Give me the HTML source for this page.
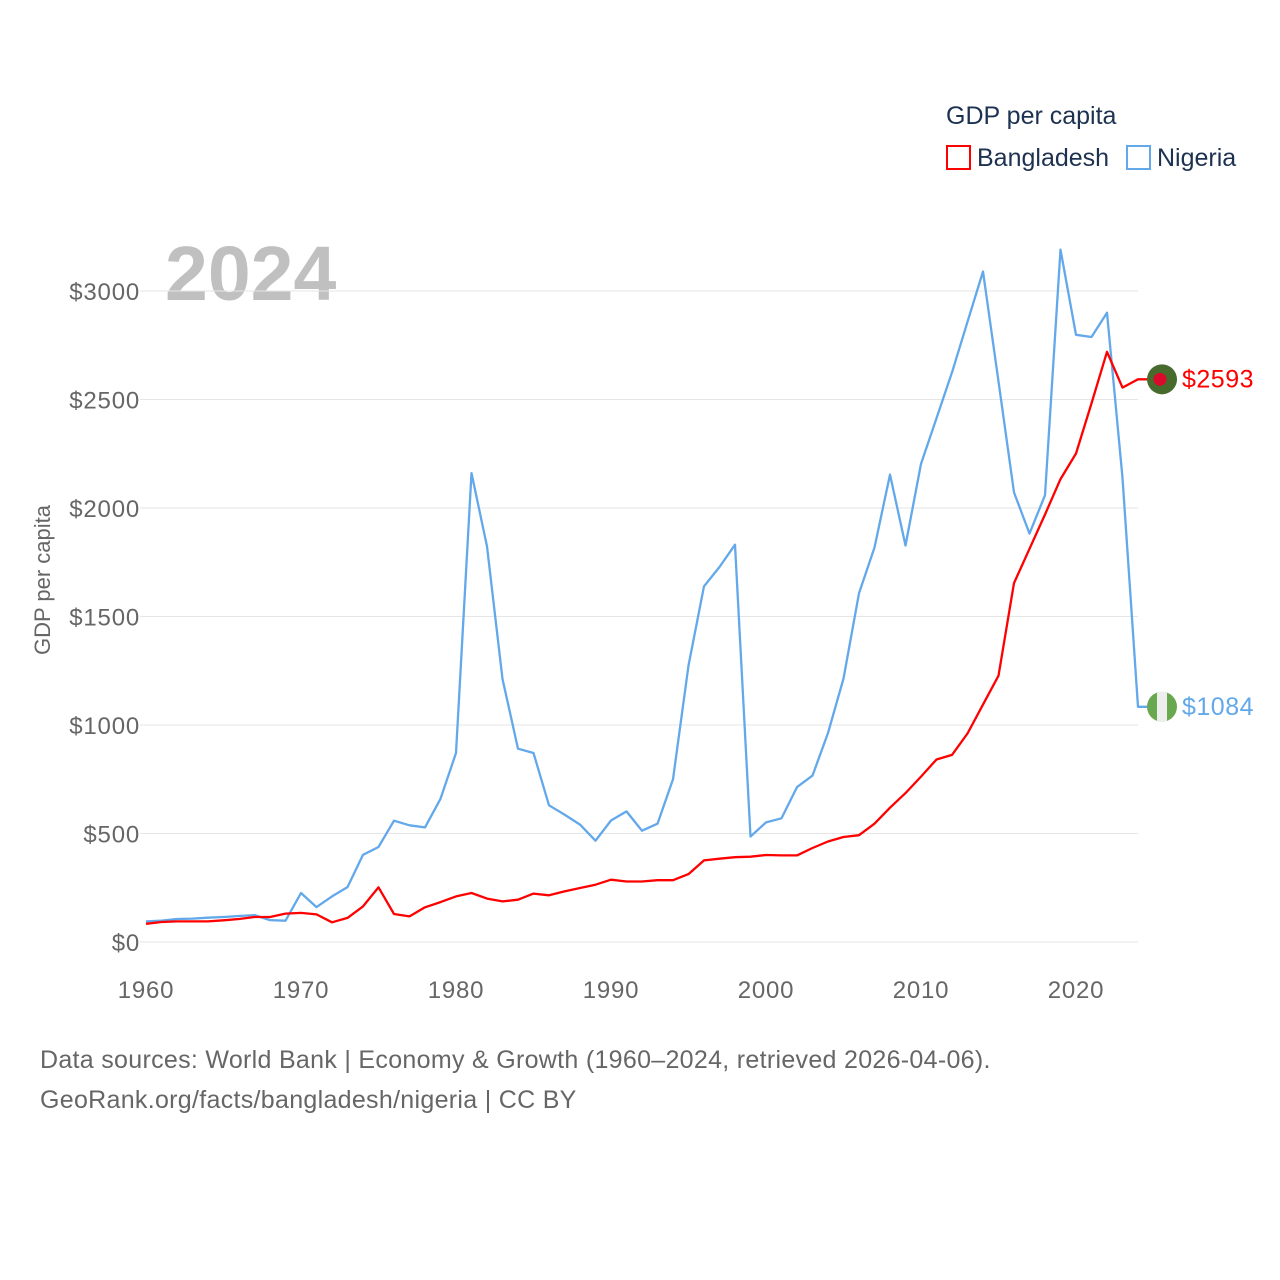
<!DOCTYPE html>
<html><head><meta charset="utf-8"><style>
html,body{margin:0;padding:0;background:#fff;width:1280px;height:1280px;overflow:hidden}
svg text{font-family:"Liberation Sans",sans-serif}
</style></head><body>
<svg id="chart" width="1280" height="1280" xmlns="http://www.w3.org/2000/svg">
<text x="946" y="124" font-size="25" fill="#1d3150">GDP per capita</text>
<g><rect x="947" y="146" width="23" height="23" fill="none" stroke="#ff0000" stroke-width="2"/><text x="977" y="166" font-size="25" fill="#1d3150">Bangladesh</text></g>
<g><rect x="1127" y="146" width="23" height="23" fill="none" stroke="#62a8ea" stroke-width="2"/><text x="1157" y="166" font-size="25" fill="#1d3150">Nigeria</text></g>
<text x="165" y="300" font-size="77" font-weight="bold" fill="#c0c0c0">2024</text>
<text transform="translate(50,580) rotate(-90)" text-anchor="middle" font-size="22" fill="#666">GDP per capita</text>
<g id="grid"></g><g id="xt"></g><g id="series"></g>
<text x="40" y="1068" font-size="25" fill="#666" letter-spacing="0.3">Data sources: World Bank | Economy &amp; Growth (1960–2024, retrieved 2026-04-06).</text>
<text x="40" y="1108" font-size="25" fill="#666" letter-spacing="0.3">GeoRank.org/facts/bangladesh/nigeria | CC BY</text>
</svg>
<script>
const years=[];for(let y=1960;y<=2024;y++)years.push(y);
const bangladesh=[84,92,95,95,95,100,106,115,115,131,134,127,91,111,164,252,129,118,160,184,210,226,200,187,195,223,215,233,249,264,287,279,279,285,285,313,376,384,391,393,401,399,399,433,463,484,492,545,619,686,762,841,862,961,1094,1227,1654,1812,1970,2133,2251,2482,2720,2555,2593];
const nigeria=[95,98,106,108,112,115,120,124,101,98,226,161,210,253,402,438,559,538,528,660,871,2161,1823,1212,891,871,630,587,541,467,560,602,513,545,750,1274,1639,1728,1831,486,551,570,714,767,963,1214,1607,1818,2154,1827,2203,2414,2625,2858,3090,2583,2072,1882,2059,3191,2798,2788,2900,2139,1084];
const yTicks=[0,500,1000,1500,2000,2500,3000];
const xTicks=[1960,1970,1980,1990,2000,2010,2020];
const NS='http://www.w3.org/2000/svg';
const X=y=>146+(y-1960)*15.5;
const Y=v=>942-v*0.217;
function mk(t,a,p){const e=document.createElementNS(NS,t);for(const k in a)e.setAttribute(k,a[k]);p.appendChild(e);return e;}
const grid=document.getElementById('grid');
yTicks.forEach(v=>{
 const l=mk('line',{x1:140,x2:1138,y1:Y(v),y2:Y(v),stroke:'#e6e6e6','stroke-width':1},grid);
 
 
 const t=mk('text',{x:140,y:Y(v)+9,'text-anchor':'end','font-size':24,'letter-spacing':0.8,fill:'#666'},grid);
 t.textContent='$'+v;
 
 
});
const xt=document.getElementById('xt');
xTicks.forEach(y=>{
 const t=mk('text',{x:X(y),y:998,'text-anchor':'middle','font-size':24,'letter-spacing':0.8,fill:'#666'},xt);
 t.textContent=y;
 
 
});
const sg=document.getElementById('series');
function line(vals,color,name){
 let d=vals.map((v,i)=>(i?'L':'M')+X(years[i]).toFixed(1)+' '+Y(v).toFixed(1)).join(' ');
 d+=' L 1147 '+Y(vals[vals.length-1]).toFixed(1);
 const p=mk('path',{d:d,fill:'none',stroke:color,'stroke-width':2.3,'stroke-linejoin':'round'},sg);
 
 
}
line(nigeria,'#62a8ea','nigeria-line');
line(bangladesh,'#ff0000','bangladesh-line');
const bv=bangladesh[bangladesh.length-1],nv=nigeria[nigeria.length-1];
const bm=mk('g',{},sg);


mk('circle',{cx:1162,cy:Y(bv),r:15,fill:'#476b2c'},bm);
mk('circle',{cx:1160,cy:Y(bv),r:6.5,fill:'#dc0a2a'},bm);
const bl=mk('text',{x:1182,y:Y(bv)+8,'font-size':25,'letter-spacing':0.5,fill:'#ff0000'},sg);
bl.textContent='$'+bv;


const nm=mk('g',{},sg);


const cy=Y(nv);
mk('defs',{},nm).innerHTML='<clipPath id="nc"><circle cx="1162" cy="'+cy+'" r="15"/></clipPath>';
const ng=mk('g',{'clip-path':'url(#nc)'},nm);
mk('rect',{x:1147,y:cy-15,width:30,height:30,fill:'#6aa84f'},ng);
mk('rect',{x:1157,y:cy-15,width:10,height:30,fill:'#eeeeee'},ng);
const nl=mk('text',{x:1182,y:cy+8,'font-size':25,'letter-spacing':0.5,fill:'#62a8ea'},sg);
nl.textContent='$'+nv;


</script>
</body></html>
